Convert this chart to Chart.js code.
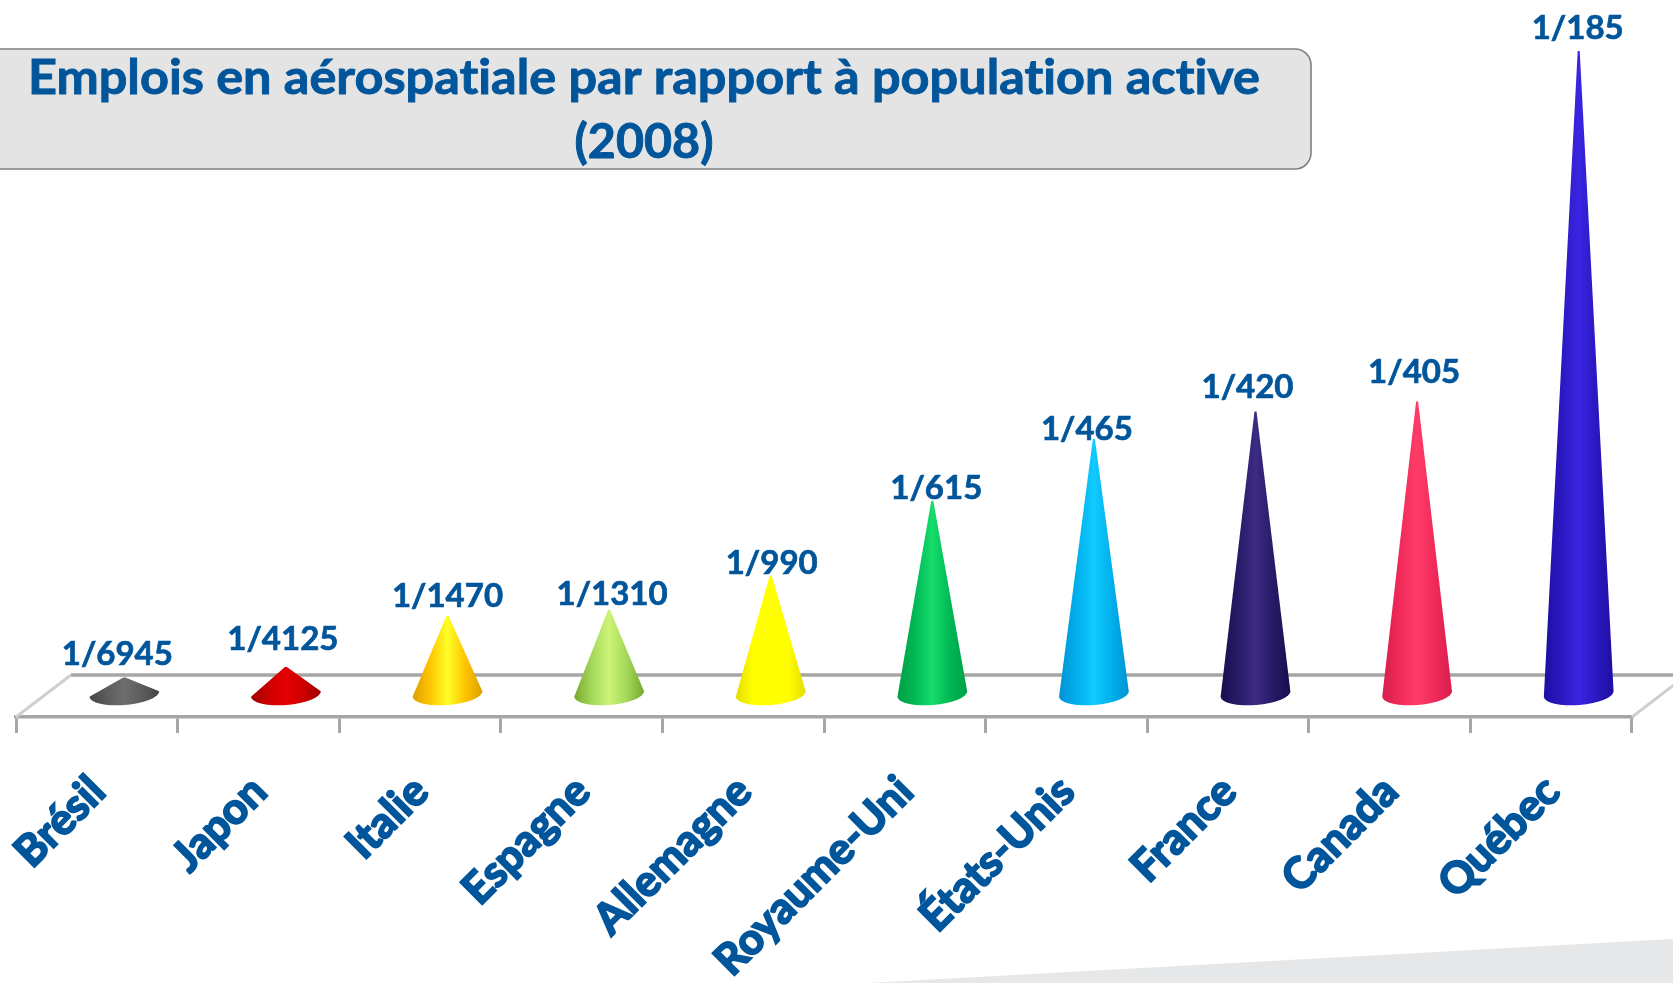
<!DOCTYPE html>
<html lang="fr">
<head>
<meta charset="utf-8">
<title>Emplois en aérospatiale</title>
<script src="https://cdn.jsdelivr.net/npm/chart.js@4"></script>
<style>html,body{margin:0;padding:0;background:#fff;overflow:hidden}canvas{display:block}</style>
</head>
<body>
<canvas id="c" width="1673" height="983"></canvas>
<script>
const categories = ['Brésil','Japon','Italie','Espagne','Allemagne','Royaume-Uni','États-Unis','France','Canada','Québec'];
const valueLabels = ['1/6945','1/4125','1/1470','1/1310','1/990','1/615','1/465','1/420','1/405','1/185'];
const jobsPerThousand = [0.139,0.227,0.657,0.707,0.993,1.625,2.143,2.374,2.459,5.405];
const edgeColors = ['#454545','#9c0000','#dd9f00','#76a82c','#e6dc00','#00a044','#0092d2','#1a0c4e','#d61f4d','#1e0ea0'];
const bodyColors = ['#5c5c5c','#cc0000','#ffc400','#a4d85a','#ffff00','#00b855','#00b0ec','#281a68','#f02a5a','#2a18c0'];
const midColors = ['#6e6e6e','#e40000','#ffff26','#ccf477','#ffff00','#16dc6c','#12caff','#3c2b82','#ff3c68','#3b25e2'];
const labelNudgeX = [-7,-3,0,3,1,4,-7,-8,-3,-1];
const labelNudgeY = [-23,-28,-19,-16,-13,-12,-10,-24,-29,-23];
const titleLines = ['Emplois en aérospatiale par rapport à population active','(2008)'];

const BLUE = '#00559b', GREY = '#a6a6a6';
const DEPTH_X = 55, DEPTH_Y = 42, TILT = -0.08;

const backdrop = {
  id:'backdrop',
  beforeDraw(chart){
    const c = chart.ctx, W = chart.width, H = chart.height;
    c.save();
    c.fillStyle='#fff'; c.fillRect(0,0,W,H);
    c.fillStyle='#e6e7e8';
    c.beginPath(); c.moveTo(868,H); c.lineTo(W,939); c.lineTo(W,H); c.closePath(); c.fill();
    c.restore();
  },
  beforeDatasetsDraw(chart){
    const c = chart.ctx, a = chart.chartArea;
    c.save();
    c.strokeStyle=GREY; c.lineWidth=3.5;
    c.beginPath(); c.moveTo(a.left+DEPTH_X,a.bottom-DEPTH_Y); c.lineTo(chart.width,a.bottom-DEPTH_Y); c.stroke();
    c.strokeStyle='#cfcfcf'; c.lineWidth=3;
    c.beginPath(); c.moveTo(a.left,a.bottom); c.lineTo(a.left+DEPTH_X,a.bottom-DEPTH_Y);
    c.moveTo(a.right,a.bottom); c.lineTo(a.right+DEPTH_X,a.bottom-DEPTH_Y); c.stroke();
    c.restore();
  }
};

const cones = {
  id:'cones',
  beforeDatasetDraw(chart,args){
    const c = chart.ctx;
    args.meta.data.forEach((bar,i)=>{
      const cx = bar.x+DEPTH_X/2, cy = bar.base-DEPTH_Y/2-2, tip = bar.y-DEPTH_Y/2-2, rx = bar.width/2, ry = 11;
      const g = c.createLinearGradient(cx-rx,0,cx+rx,0);
      g.addColorStop(0,edgeColors[i]); g.addColorStop(0.25,bodyColors[i]); g.addColorStop(0.5,midColors[i]);
      g.addColorStop(0.75,bodyColors[i]); g.addColorStop(1,edgeColors[i]);
      c.save();
      c.fillStyle=g;
      c.beginPath();
      c.moveTo(cx-1,tip); c.lineTo(cx+1,tip);
      c.lineTo(cx+rx*Math.cos(TILT),cy+rx*Math.sin(TILT));
      c.ellipse(cx,cy,rx,ry,TILT,0,Math.PI);
      c.closePath(); c.fill();
      c.restore();
    });
    return false;
  }
};

function fitText(c,text,x,y,width){
  const w = c.measureText(text).width;
  c.save(); c.translate(x,y); c.scale(width/w,1); c.fillText(text,0,0); c.strokeText(text,0,0); c.restore();
}

const texts = {
  id:'texts',
  afterDatasetsDraw(chart){
    const c = chart.ctx, meta = chart.getDatasetMeta(0);
    c.save();
    c.letterSpacing='0.01px';
    c.fillStyle=BLUE; c.strokeStyle=BLUE; c.lineWidth=0.7; c.textAlign='center'; c.textBaseline='middle';
    c.font='bold 33px Lato';
    meta.data.forEach((bar,i)=>{
      const x = bar.x+DEPTH_X/2+labelNudgeX[i], y = bar.y-DEPTH_Y/2-2+labelNudgeY[i];
      c.fillText(valueLabels[i],x,y); c.strokeText(valueLabels[i],x,y);
    });
    // title box
    c.fillStyle='#e4e4e4'; c.strokeStyle='#7f7f7f'; c.lineWidth=1.6;
    c.beginPath(); c.roundRect(-20,49,1331,120,16); c.fill(); c.stroke();
    c.fillStyle=BLUE; c.strokeStyle=BLUE; c.lineWidth=0.9; c.textBaseline='alphabetic'; c.font='bold 48px Lato';
    fitText(c,titleLines[0],644,94,1232);
    fitText(c,titleLines[1],644,158,139);
    c.restore();
  }
};

new Chart(document.getElementById('c'),{
  type:'bar',
  data:{labels:categories,datasets:[{data:jobsPerThousand,backgroundColor:edgeColors,categoryPercentage:1,barPercentage:0.433}]},
  plugins:[backdrop,cones,texts],
  options:{
    responsive:false,animation:false,
    layout:{padding:{left:16,right:41,top:74,bottom:0}},
    plugins:{legend:{display:false},tooltip:{enabled:false}},
    scales:{
      y:{display:false,min:0,max:5.405,afterFit(s){s.width=0;}},
      x:{
        afterFit(s){s.height=266;s.paddingLeft=0;s.paddingRight=0;},
        grid:{drawOnChartArea:false,color:GREY,lineWidth:3,tickLength:16,tickColor:GREY,offset:true},
        border:{color:GREY,width:3.5},
        ticks:{color:BLUE,font:{family:'Lato',weight:'bold',size:43},minRotation:45,maxRotation:45,autoSkip:false,padding:33,labelOffset:1,textStrokeColor:BLUE,textStrokeWidth:2}
      }
    }
  }
});
</script>
</body>
</html>
